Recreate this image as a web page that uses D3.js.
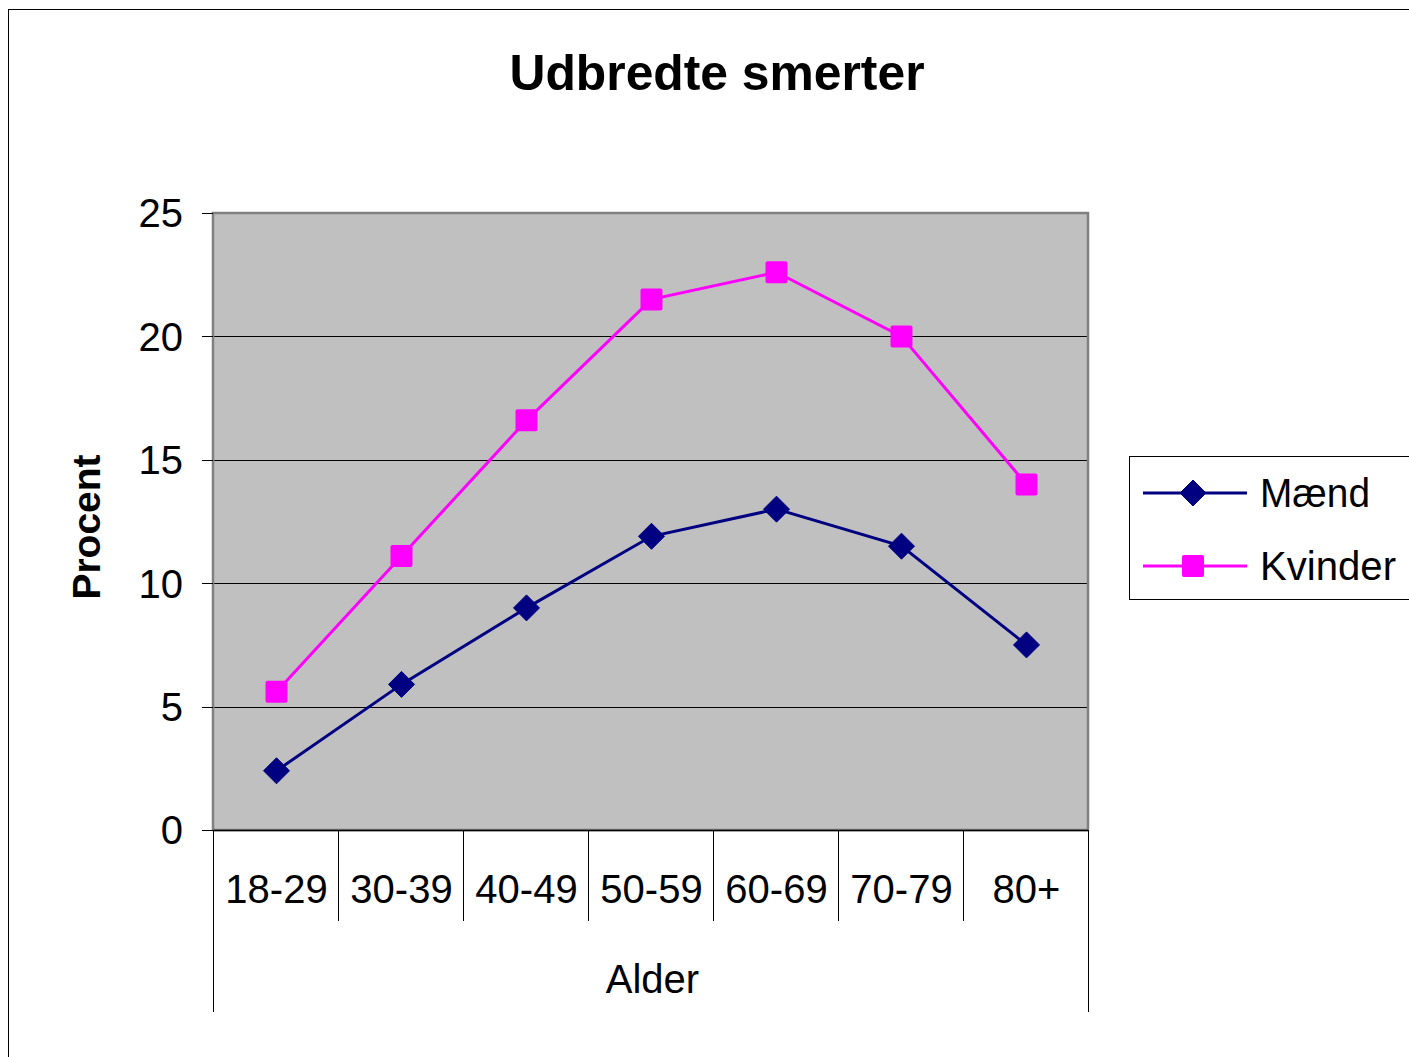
<!DOCTYPE html>
<html><head><meta charset="utf-8">
<script src="https://cdn.jsdelivr.net/npm/d3@7"></script>
<style>body{margin:0;background:#fff;} svg{display:block;} text{font-family:"Liberation Sans",Arial,sans-serif;}</style>
</head><body>
<svg id="c" width="1409" height="1057"></svg>
<script>
const title = "Udbredte smerter";
const categories = ["18-29","30-39","40-49","50-59","60-69","70-79","80+"];
const maend = [2.4, 5.9, 9.0, 11.9, 13.0, 11.5, 7.5];
const kvinder = [5.6, 11.1, 16.6, 21.5, 22.6, 20.0, 14.0];
const seriesNames = ["Mænd","Kvinder"];
const yTicks = [0,5,10,15,20,25];
const xTitle = "Alder", yTitle = "Procent";

const svg = d3.select("#c");
svg.append("rect").attr("x",8.5).attr("y",9.5).attr("width",1420).attr("height",1070)
  .attr("fill","none").attr("stroke","#000").attr("stroke-width",1);

const L=213, R=1088, T=213, B=830;
const x = d3.scaleBand().domain(categories).range([L,R]).padding(0);
const y = d3.scaleLinear().domain([0,25]).range([B,T]);

svg.append("rect").attr("x",L).attr("y",T).attr("width",R-L).attr("height",B-T)
  .attr("fill","#c0c0c0");
svg.append("g").selectAll("line").data(yTicks.filter(d=>d>0&&d<25)).join("line")
  .attr("x1",L).attr("x2",R).attr("y1",d=>Math.round(y(d))+0.5).attr("y2",d=>Math.round(y(d))+0.5)
  .attr("stroke","#000").attr("stroke-width",1);
svg.append("rect").attr("x",L).attr("y",T).attr("width",R-L).attr("height",B-T)
  .attr("fill","none").attr("stroke","#808080").attr("stroke-width",2.5);

const yg = svg.append("g");
yg.selectAll("line").data(yTicks).join("line")
  .attr("x1",202).attr("x2",L).attr("y1",d=>Math.round(y(d))+0.5).attr("y2",d=>Math.round(y(d))+0.5)
  .attr("stroke","#000").attr("stroke-width",1);
yg.selectAll("text").data(yTicks).join("text")
  .attr("x",183).attr("y",d=>y(d)).attr("dy","0.36em").attr("text-anchor","end")
  .attr("font-size",40).text(d=>d);

svg.append("line").attr("x1",L).attr("x2",R).attr("y1",B+0.5).attr("y2",B+0.5).attr("stroke","#000").attr("stroke-width",1.5);
const bounds = categories.map(c=>x(c)).concat([R]);
svg.append("g").selectAll("line").data(bounds).join("line")
  .attr("x1",d=>Math.round(d)+0.5).attr("x2",d=>Math.round(d)+0.5)
  .attr("y1",B).attr("y2",(d,i)=> (i===0||i===bounds.length-1)?1012:921)
  .attr("stroke","#000").attr("stroke-width",1);
svg.append("g").selectAll("text").data(categories).join("text")
  .attr("x",d=>x(d)+x.bandwidth()/2+1).attr("y",903).attr("text-anchor","middle")
  .attr("font-size",40).text(d=>d);

svg.append("text").attr("x",(L+R)/2+2).attr("y",993).attr("text-anchor","middle")
  .attr("font-size",40).text(xTitle);
svg.append("text").attr("transform","translate(100,527) rotate(-90)").attr("text-anchor","middle")
  .attr("font-size",39).attr("font-weight","bold").text(yTitle);
svg.append("text").attr("x",717).attr("y",90).attr("text-anchor","middle")
  .attr("font-size",50).attr("font-weight","bold")
  .attr("textLength",415).attr("lengthAdjust","spacingAndGlyphs").text(title);

const cx = c => x(c)+x.bandwidth()/2+1;
const line = d3.line().x((d,i)=>cx(categories[i])).y(d=>y(d));
const colors = ["#000080","#ff00ff"];
const data = [maend, kvinder];
data.forEach((s,k)=>{
  svg.append("path").datum(s).attr("d",line).attr("fill","none")
    .attr("stroke",colors[k]).attr("stroke-width",3);
});
const diamond = (g,cxv,cyv)=> g.append("path")
  .attr("d",`M${cxv},${cyv-13}L${cxv+13},${cyv}L${cxv},${cyv+13}L${cxv-13},${cyv}Z`)
  .attr("fill",colors[0]).attr("stroke",colors[0]).attr("stroke-width",1).attr("stroke-linejoin","round");
const square = (g,cxv,cyv)=> g.append("rect").attr("x",cxv-11).attr("y",cyv-11).attr("width",22).attr("height",22)
  .attr("rx",2).attr("fill",colors[1]);
const mg = svg.append("g");
maend.forEach((v,i)=>diamond(mg,cx(categories[i]),y(v)));
kvinder.forEach((v,i)=>square(mg,cx(categories[i]),y(v)));

const lg = svg.append("g");
lg.append("rect").attr("x",1129.5).attr("y",456.5).attr("width",290).attr("height",143)
  .attr("fill","#fff").attr("stroke","#000").attr("stroke-width",1);
const ly = [493,566];
seriesNames.forEach((n,k)=>{
  lg.append("line").attr("x1",1143).attr("x2",1247).attr("y1",ly[k]).attr("y2",ly[k])
    .attr("stroke",colors[k]).attr("stroke-width",3);
  if(k===0) diamond(lg,1193,ly[k]); else square(lg,1193,ly[k]);
  lg.append("text").attr("x",1260).attr("y",ly[k]).attr("dy","0.36em").attr("font-size",40)
    .attr("textLength",k===0?110:136).attr("lengthAdjust","spacingAndGlyphs").text(n);
});
</script>
</body></html>
